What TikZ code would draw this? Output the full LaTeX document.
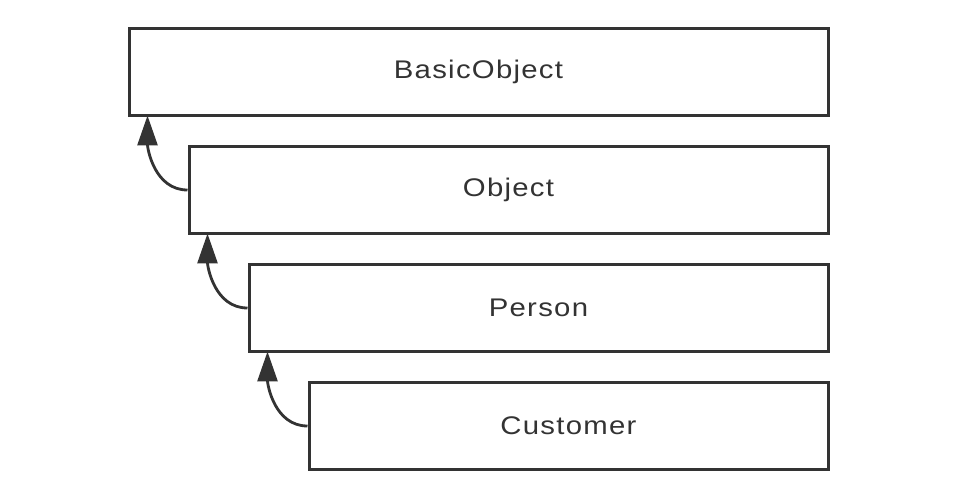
\documentclass[tikz,border=0pt]{standalone}
\usepackage{fontspec}
\setmainfont{Liberation Sans}[LetterSpace=5,FakeStretch=1.15]
\usetikzlibrary{arrows.meta}
\definecolor{lc}{HTML}{333333}
\begin{document}
\begin{tikzpicture}[x=1pt,y=-1pt,
  cls/.style={draw=lc,line width=3pt,minimum height=87pt,inner sep=0pt,anchor=north east,
    font=\fontsize{25.5}{30}\selectfont,text=lc},
  inh/.style={draw=lc,line width=2.8pt,-{Triangle[length=30pt,width=20pt]}}]
\useasboundingbox (0,0) rectangle (970,502);
\node[cls,minimum width=699pt] (bo) at (829.5,27) {BasicObject};
\node[cls,minimum width=639pt] (ob) at (829.5,145) {Object};
\node[cls,minimum width=579pt] (pe) at (829.5,263) {Person};
\node[cls,minimum width=519pt] (cu) at (829.5,381) {Customer};
\coordinate (t1) at ([xshift=20pt]bo.south west);
\coordinate (t2) at ([xshift=20pt]ob.south west);
\coordinate (t3) at ([xshift=20pt]pe.south west);
\draw[inh] (ob.west) to[out=180,in=-90] ([yshift=1.5pt]t1);
\draw[inh] (pe.west) to[out=180,in=-90] ([yshift=1.5pt]t2);
\draw[inh] (cu.west) to[out=180,in=-90] ([yshift=1.5pt]t3);
\end{tikzpicture}
\end{document}
